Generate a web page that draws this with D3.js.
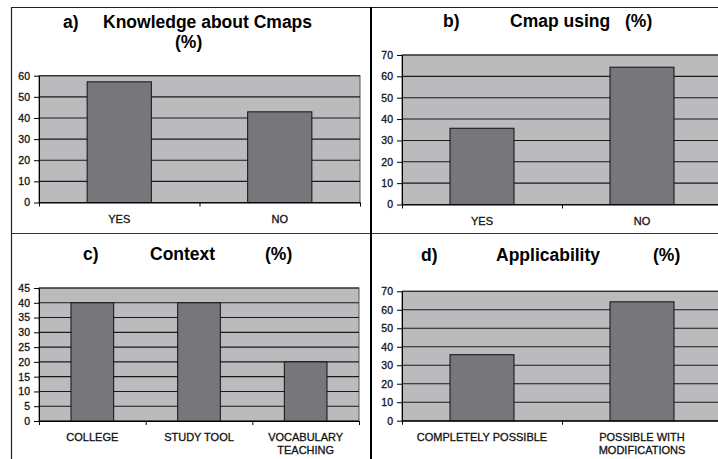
<!DOCTYPE html>
<html>
<head>
<meta charset="utf-8">
<script src="https://cdn.jsdelivr.net/npm/d3@7"></script>
<style>
  body { margin: 0; background: #fff; }
  svg { display: block; font-family: "Liberation Sans", Arial, sans-serif; }
</style>
</head>
<body>
<div class="figure"></div>
<script>
// values (percent)
const catsA = [['YES'], ['NO']]
const valsA = [57.1, 42.9]
const ticksA = [0, 10, 20, 30, 40, 50, 60]

const catsB = [['YES'], ['NO']]
const valsB = [35.7, 64.3]
const ticksB = [0, 10, 20, 30, 40, 50, 60, 70]

const catsC = [['COLLEGE'], ['STUDY TOOL'], ['VOCABULARY', 'TEACHING']]
const valsC = [40, 40, 20]
const ticksC = [0, 5, 10, 15, 20, 25, 30, 35, 40, 45]

const catsD = [['COMPLETELY POSSIBLE'], ['POSSIBLE WITH', 'MODIFICATIONS']]
const valsD = [35.7, 64.3]
const ticksD = [0, 10, 20, 30, 40, 50, 60, 70]

const titleA = ['a)', 'Knowledge about Cmaps', '(%)']
const titleB = ['b)', 'Cmap using', '(%)']
const titleC = ['c)', 'Context', '(%)']
const titleD = ['d)', 'Applicability', '(%)']

document.addEventListener('DOMContentLoaded', start)

function start () {
  const svg = d3.select('.figure')
    .append('svg')
    .attr('width', 718)
    .attr('height', 459)

  drawFrame(svg)

  // plot boxes: left, right, top (max tick), bottom (zero)
  drawPanel(svg, catsA, valsA, ticksA, { x0: 39, x1: 360, y0: 75.7, y1: 202.5 })
  drawPanel(svg, catsB, valsB, ticksB, { x0: 402, x1: 722, y0: 55, y1: 204.5 })
  drawPanel(svg, catsC, valsC, ticksC, { x0: 39, x1: 359, y0: 288, y1: 421 })
  drawPanel(svg, catsD, valsD, ticksD, { x0: 402, x1: 722, y0: 291.3, y1: 420.7 })

  drawTitle(svg, titleA, [[63, 28], [103, 28], [175, 48]])
  drawTitle(svg, titleB, [[443, 26.5], [510, 26.5], [625, 26.5]])
  drawTitle(svg, titleC, [[83, 260], [150, 260], [265, 260]])
  drawTitle(svg, titleD, [[421, 261], [496, 261], [653, 261]])
}

function drawFrame (svg) {
  const g = svg.append('g').attr('class', 'frame')
  g.append('line').attr('x1', 11).attr('x2', 718).attr('y1', 7.5).attr('y2', 7.5)
    .attr('stroke', '#222').attr('stroke-width', 1)
  g.append('line').attr('x1', 11.5).attr('x2', 11.5).attr('y1', 7).attr('y2', 459)
    .attr('stroke', '#222').attr('stroke-width', 1.2)
  g.append('line').attr('x1', 11).attr('x2', 718).attr('y1', 233.5).attr('y2', 233.5)
    .attr('stroke', '#333').attr('stroke-width', 1)
  g.append('line').attr('x1', 371).attr('x2', 371).attr('y1', 7).attr('y2', 459)
    .attr('stroke', '#000').attr('stroke-width', 2)
}

function drawPanel (svg, cats, vals, ticks, box) {
  const n = cats.length
  const g = svg.append('g')

  const y = d3.scaleLinear()
    .domain([0, d3.max(ticks)])
    .range([box.y1, box.y0])

  const x = d3.scaleBand()
    .domain(d3.range(n))
    .range([box.x0, box.x1])
    .paddingInner(0.6)
    .paddingOuter(0.3)

  const edges = d3.scaleLinear()
    .domain([0, n])
    .range([box.x0, box.x1])

  // gray plot area
  g.append('rect')
    .attr('x', box.x0)
    .attr('y', box.y0)
    .attr('width', box.x1 - box.x0)
    .attr('height', box.y1 - box.y0)
    .attr('fill', '#bbbbbe')
    .attr('stroke', '#555')
    .attr('stroke-width', 1)

  // gridlines
  g.append('g')
    .selectAll('line')
    .data(ticks)
    .enter().append('line')
    .attr('x1', box.x0)
    .attr('x2', box.x1)
    .attr('y1', (d) => y(d))
    .attr('y2', (d) => y(d))
    .attr('stroke', '#1a1a1a')
    .attr('stroke-width', 1.1)

  // bars
  g.append('g')
    .selectAll('rect')
    .data(vals)
    .enter().append('rect')
    .attr('x', (d, i) => x(i))
    .attr('y', (d) => y(d))
    .attr('width', x.bandwidth())
    .attr('height', (d) => y(0) - y(d))
    .attr('fill', '#77777b')
    .attr('stroke', '#111')
    .attr('stroke-width', 1)

  // y axis
  const yAxis = g.append('g')
    .attr('transform', `translate(${box.x0},0)`)
    .call(d3.axisLeft(y).tickValues(ticks).tickSize(5).tickSizeOuter(0).tickPadding(4))
  yAxis.selectAll('text')
    .attr('font-size', '10.5px')
    .attr('font-family', '"Liberation Sans", Arial, sans-serif')
    .attr('fill', '#111')
    .attr('stroke', '#111')
    .attr('stroke-width', 0.3)

  // x axis: tick marks at the category edges
  const xAxis = g.append('g')
    .attr('transform', `translate(0,${box.y1})`)
    .call(d3.axisBottom(edges).tickValues(d3.range(n + 1)).tickFormat('').tickSize(4).tickSizeOuter(0))
  xAxis.selectAll('path, line').attr('stroke', '#000')
  yAxis.selectAll('path, line').attr('stroke', '#000')

  // category labels
  const labels = g.append('g')
    .selectAll('text')
    .data(cats)
    .enter().append('text')
    .attr('x', (d, i) => x(i) + x.bandwidth() / 2)
    .attr('y', box.y1 + 20)
    .attr('text-anchor', 'middle')
    .attr('font-size', '11px')
    .attr('fill', '#111')
    .attr('stroke', '#111')
    .attr('stroke-width', 0.3)
  labels.selectAll('tspan')
    .data((d) => d)
    .enter().append('tspan')
    .attr('x', function () { return d3.select(this.parentNode).attr('x') })
    .attr('dy', (d, i) => i === 0 ? 0 : 12.8)
    .text((d) => d)
}

function drawTitle (svg, parts, spots) {
  svg.append('g')
    .selectAll('text')
    .data(parts)
    .enter().append('text')
    .attr('x', (d, i) => spots[i][0])
    .attr('y', (d, i) => spots[i][1])
    .attr('font-size', '17.5px')
    .attr('font-weight', 'bold')
    .attr('fill', '#000')
    .text((d) => d)
}
</script>
</body>
</html>
